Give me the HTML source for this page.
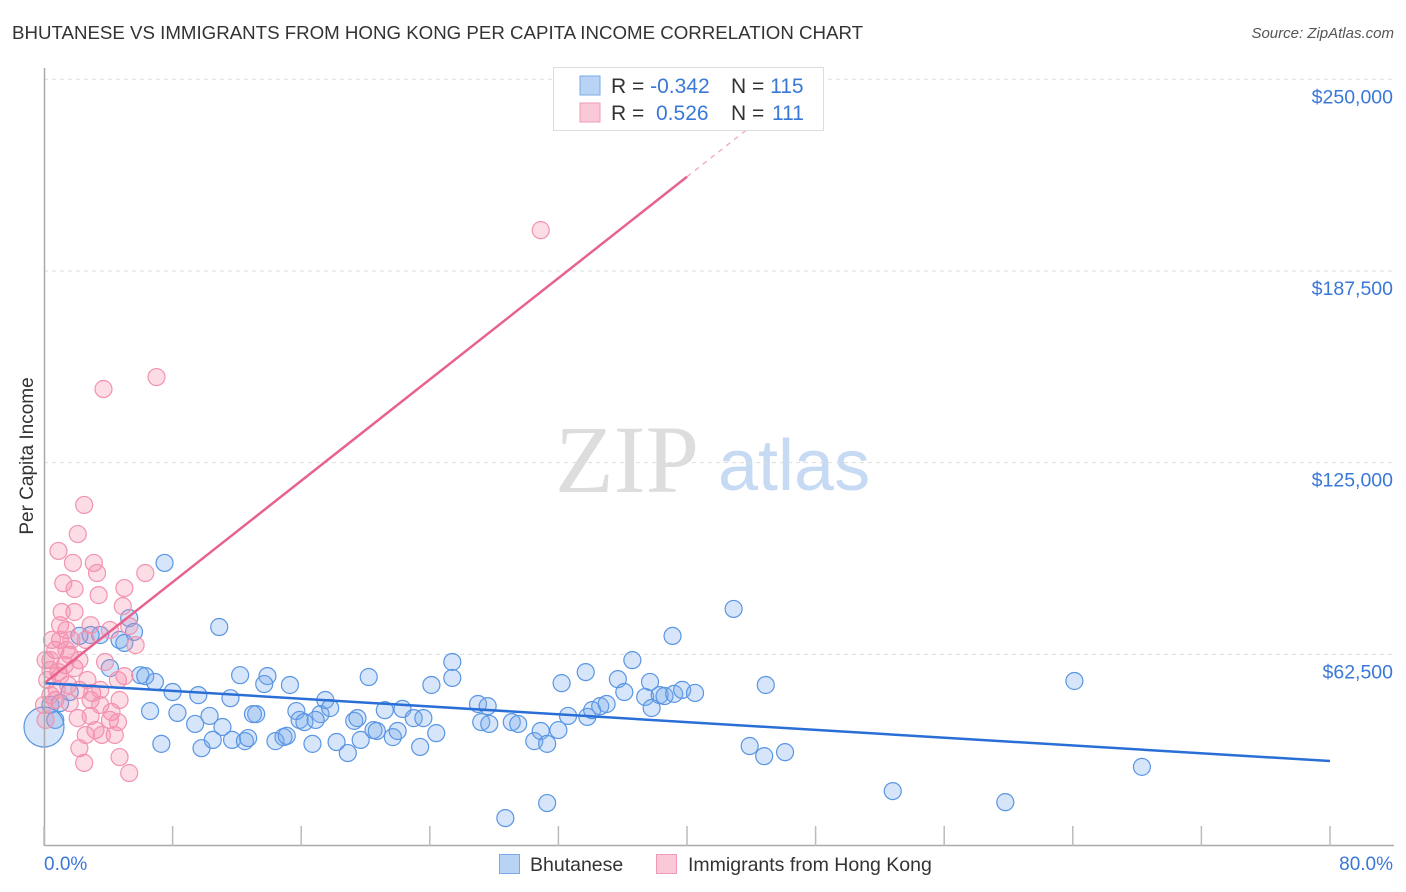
<!DOCTYPE html>
<html><head><meta charset="utf-8"><style>
body{margin:0;background:#fff;font-family:"Liberation Sans",sans-serif;}
#wrap{position:relative;width:1406px;height:892px;overflow:hidden;}
.t{position:absolute;white-space:nowrap;}
</style></head><body>
<div id="wrap">
<div class="t" style="left:12px;top:22px;font-size:18.7px;color:#333;">BHUTANESE VS IMMIGRANTS FROM HONG KONG PER CAPITA INCOME CORRELATION CHART</div>
<div class="t" style="right:12px;top:25px;font-size:15px;color:#555;font-style:italic;">Source: ZipAtlas.com</div>
<svg id="svg" width="1406" height="892" style="position:absolute;left:0;top:0">
<text x="555" y="492" font-family="Liberation Serif,serif" font-size="96" fill="#ddd">ZIP</text>
<text x="718" y="490" font-family="Liberation Sans,sans-serif" font-size="72" fill="#c7daf3">atlas</text>
<g id="grid"></g><g id="pts"></g><g id="lines"></g><g id="axes"></g>
<text x="33" y="456" transform="rotate(-90 33 456)" text-anchor="middle" font-size="19" fill="#333">Per Capita Income</text>
<text x="44" y="870" font-size="19" fill="#3a78d8">0.0%</text>
<text x="1393" y="870" text-anchor="end" font-size="19" fill="#3a78d8">80.0%</text>
<g>
<rect x="553.5" y="67.5" width="270" height="63" fill="#fff" stroke="#ddd"/>
<rect x="580" y="76" width="20" height="19" fill="#b9d3f5" stroke="#7aaae8"/>
<rect x="580" y="103" width="20" height="19" fill="#fac9d7" stroke="#f29ab5"/>
<text x="611" y="93" font-size="21" fill="#333">R = <tspan fill="#3a78d8">-0.342</tspan></text>
<text x="731" y="93" font-size="21" fill="#333">N = <tspan fill="#3a78d8">115</tspan></text>
<text x="611" y="120" font-size="21" fill="#333">R = <tspan fill="#3a78d8" x="656">0.526</tspan></text>
<text x="731" y="120" font-size="21" fill="#333">N = <tspan fill="#3a78d8" x="772">111</tspan></text>
</g>
<g>
<rect x="499.5" y="854.5" width="20" height="19" fill="#b9d3f5" stroke="#7aaae8"/>
<text x="530" y="871" font-size="19.5" fill="#333">Bhutanese</text>
<rect x="656.5" y="854.5" width="20" height="19" fill="#fac9d7" stroke="#f29ab5"/>
<text x="688" y="871" font-size="19.5" fill="#333">Immigrants from Hong Kong</text>
</g>
</svg>
</div>
<script>
const yTicks=[62500,125000,187500,250000];
const yTickLabels=["$62,500","$125,000","$187,500","$250,000"];
const xTicks=[0,8,16,24,32,40,48,56,64,72,80];
const blueX=[7.5,10.9,5.3,3.5,2.9,4.7,5.6,2.2,4.1,5.0,6.0,6.3,6.9,8.0,9.6,11.6,12.2,13.9,13.7,15.3,6.6,8.3,9.4,10.3,11.1,7.3,9.8,10.5,11.7,12.5,12.7,13.2,13.0,14.4,14.9,15.1,15.7,15.9,16.2,16.7,17.2,17.5,17.8,16.9,18.2,18.9,19.3,19.5,19.7,20.2,20.5,20.7,21.2,21.7,22.0,22.3,23.0,23.4,23.6,24.1,24.4,25.4,25.4,27.0,27.2,27.6,27.7,29.1,29.5,30.5,30.9,31.3,32.0,32.2,32.6,33.7,33.8,34.1,34.6,35.0,35.7,36.1,36.6,37.4,37.7,37.8,38.3,38.6,39.1,39.2,39.7,40.5,42.9,43.9,44.8,44.9,46.1,52.8,59.8,64.1,68.3,28.7,31.3,0.4,1.0,1.6,0.7,0.0];
const blueY=[92.3,71.4,74.3,68.8,68.8,67.2,69.8,68.5,58.0,66.2,55.7,55.4,53.5,50.2,49.2,48.2,55.7,55.4,52.8,52.5,44.0,43.4,39.8,42.4,38.8,33.3,31.9,34.6,34.6,34.2,35.2,43.0,43.0,34.2,35.5,35.9,44.0,41.1,40.4,33.3,43.0,47.6,45.0,41.1,33.9,30.3,40.8,41.7,34.6,55.1,37.8,37.5,44.3,35.5,37.5,44.7,41.7,32.3,41.7,52.5,36.8,60.0,54.8,46.3,40.4,45.6,39.8,40.4,39.8,34.2,37.5,33.3,37.8,53.1,42.4,56.7,42.1,44.3,45.6,46.3,54.4,50.2,60.6,48.6,53.5,45.0,49.2,48.9,68.5,49.6,50.9,49.9,77.3,32.6,29.3,52.5,30.6,17.9,14.3,53.8,25.8,9.1,14.0,46.0,46.6,50.2,41.1,38.8];
const pinkX=[30.9,7.0,3.7,2.5,2.1,0.9,1.8,3.1,1.2,1.9,3.3,5.0,6.3,3.4,4.9,1.9,2.6,1.4,2.9,4.1,5.3,1.0,0.7,1.6,0.4,1.3,0.9,1.9,0.2,1.5,2.2,3.0,3.8,4.6,0.7,1.6,2.9,3.5,4.2,2.1,2.9,4.7,4.1,2.6,3.2,4.6,2.2,2.5,4.7,5.3,5.0,5.7,1.0,0.5,1.1,0.4,1.7,0.1,1.4,2.2,2.7,3.5,4.4,3.6,1.0,0.4,0.8,0.0,0.1];
const pinkY=[200.8,152.9,149.0,111.2,101.7,96.2,92.3,92.3,85.7,83.8,89.0,84.1,89.0,81.8,78.2,76.3,67.2,70.4,72.0,70.4,71.7,67.2,63.9,62.3,60.6,59.0,56.7,58.0,54.1,52.5,50.9,49.9,60.0,54.1,47.6,46.6,47.6,46.0,43.7,41.7,42.4,47.6,41.1,36.2,37.8,40.4,31.9,27.1,29.0,23.8,55.4,65.5,72.0,67.2,76.3,49.2,67.2,60.6,63.9,60.6,54.1,50.9,36.2,36.2,55.4,57.4,50.9,46.0,41.1];
const blueLine=[53.1,27.7];
const pinkLine=[53.0,218.2];
const NS="http://www.w3.org/2000/svg";
const X=v=>44+v*16.075;
const Y=k=>846-k*3.067;
function mk(tag,attrs,parent){const e=document.createElementNS(NS,tag);for(const k in attrs)e.setAttribute(k,attrs[k]);document.getElementById(parent).appendChild(e);return e;}
yTicks.forEach((t,i)=>{
 const g=mk('line',{x1:44,x2:1394,y1:Y(t/1000),y2:Y(t/1000),stroke:'#ddd','stroke-dasharray':'4,4'},'grid');
 
 
 const l=mk('text',{x:1393,y:Y(t/1000)+24,'text-anchor':'end','font-size':'19.5',fill:'#3a78d8'},'grid');
 l.textContent=yTickLabels[i];
 
 
});
const ax=mk('line',{x1:44,x2:1394,y1:845.5,y2:845.5,stroke:'#aaa','stroke-width':1.5},'axes');


const ay=mk('line',{x1:44.5,x2:44.5,y1:68,y2:846,stroke:'#aaa','stroke-width':1.5},'axes');


xTicks.forEach(t=>{
 const k=mk('line',{x1:X(t),x2:X(t),y1:826,y2:846,stroke:'#bbb','stroke-width':1.5},'axes');
 
 
});
blueX.forEach((x,i)=>{
 const big=(i===blueX.length-1);
 const c=mk('circle',{cx:X(x),cy:Y(blueY[i]),r:big?20:8.5,fill:'rgba(120,170,235,0.3)',stroke:'#5a96e3','stroke-width':1.2},'pts');
 
 
});
pinkX.forEach((x,i)=>{
 const c=mk('circle',{cx:X(x),cy:Y(pinkY[i]),r:8.5,fill:'rgba(245,140,170,0.3)',stroke:'#f293b0','stroke-width':1.2},'pts');
 
 
});
const bl=mk('line',{x1:X(0),y1:Y(blueLine[0]),x2:X(80),y2:Y(blueLine[1]),stroke:'#2a6fd6','stroke-width':2.5},'lines');


const slope=(pinkLine[1]-pinkLine[0])/40;
const pl=mk('line',{x1:X(0),y1:Y(pinkLine[0]),x2:X(40),y2:Y(pinkLine[1]),stroke:'#e8628e','stroke-width':2.5},'lines');


const pd=mk('line',{x1:X(40),y1:Y(pinkLine[1]),x2:X(47.5),y2:Y(pinkLine[0]+slope*47.5),stroke:'#f0a0ba','stroke-width':1.2,'stroke-dasharray':'5,5'},'lines');


</script>
</body></html>
